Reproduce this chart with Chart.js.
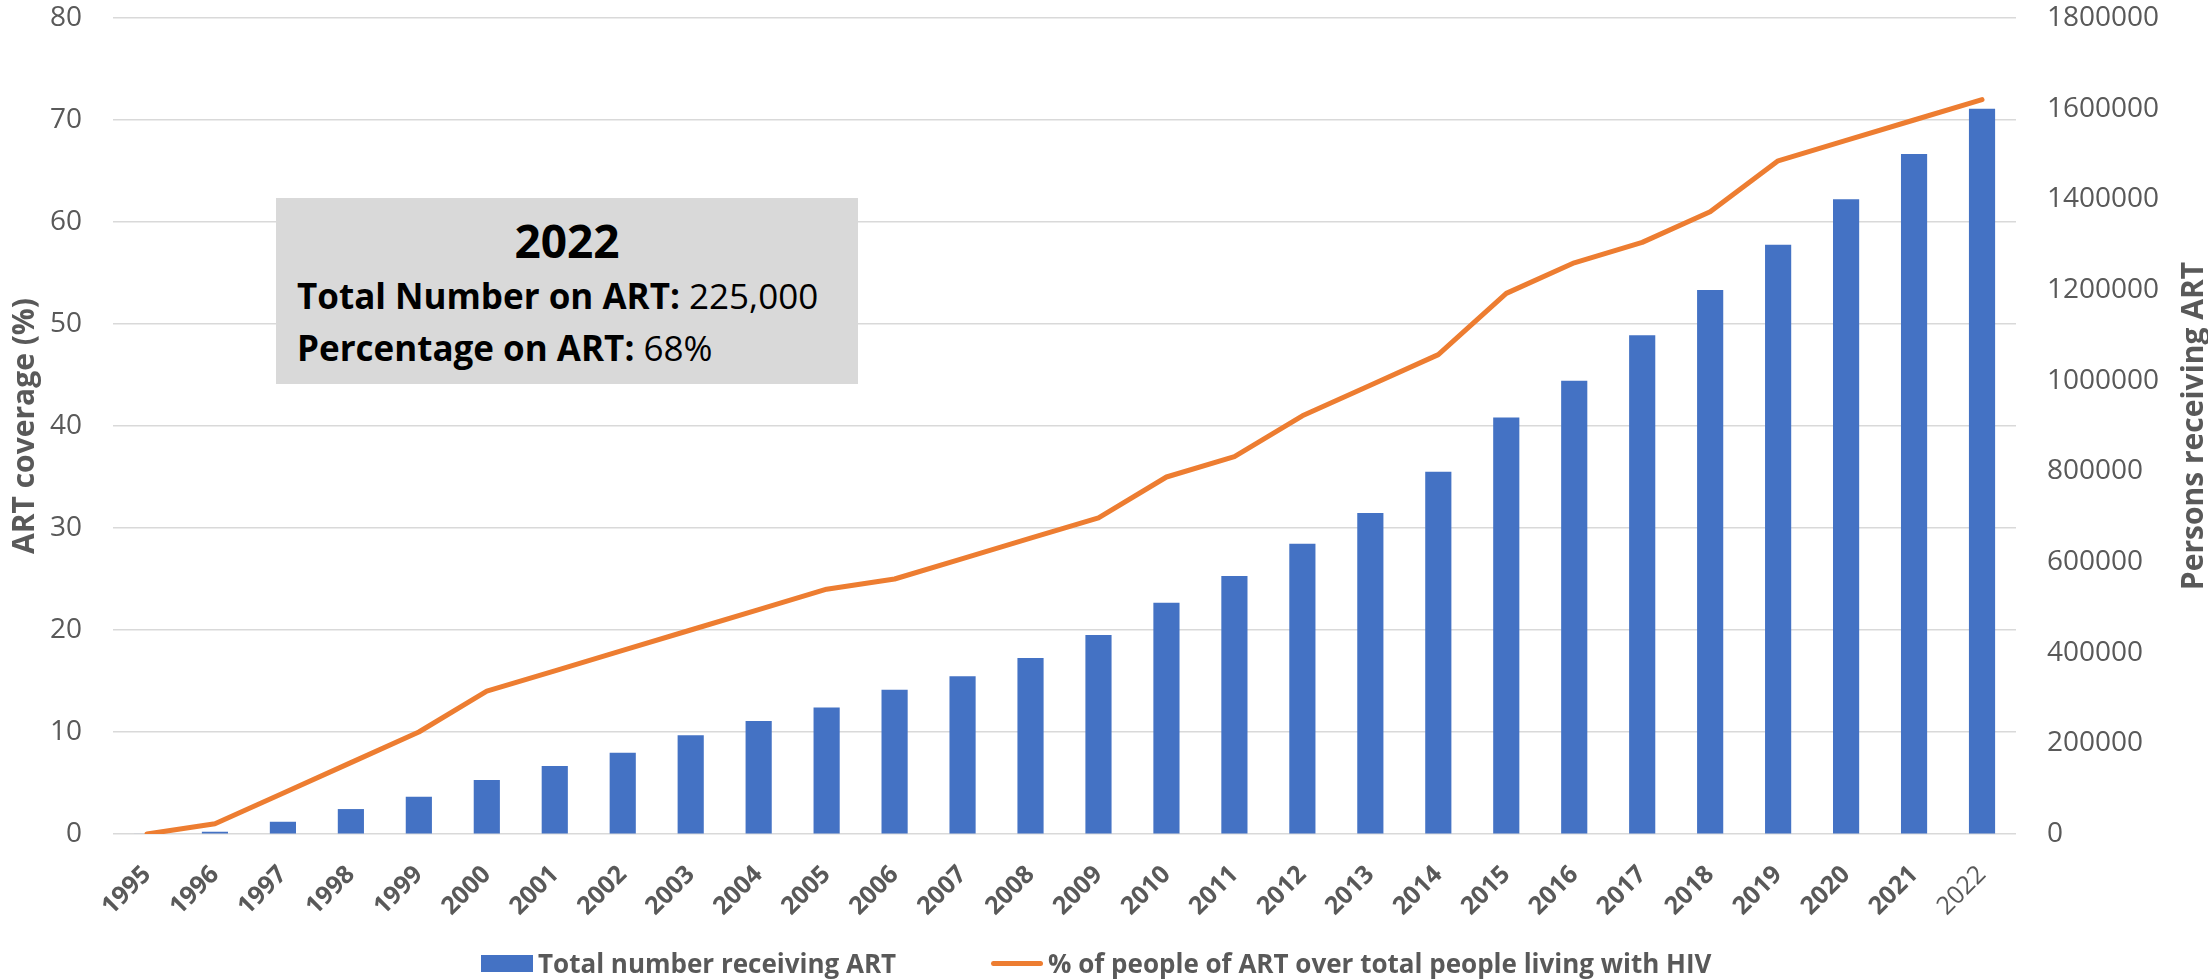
<!DOCTYPE html>
<html>
<head>
<meta charset="utf-8">
<script src="https://cdn.jsdelivr.net/npm/chart.js@4"></script>
<style>
    body { margin: 0; background: #fff; font-family: "Open Sans", sans-serif; }
    #wrap { position: relative; width: 2208px; height: 980px; }
    #note {
        position: absolute; left: 276px; top: 198px; width: 582px; height: 186px;
        background: #d9d9d9; color: #000; box-sizing: border-box; padding: 16px 0 0 21px;
    }
    #note .yr { font-size: 46px; font-weight: bold; line-height: 52px; text-align: center; margin: 0 21px 4px 0; }
    #note .row { font-size: 35px; line-height: 52px; white-space: nowrap; }
    .leg { position: absolute; top: 945px; height: 36px; display: flex; align-items: center;
        font-size: 26px; font-weight: bold; color: #595959; white-space: nowrap; }
    .leg .box { width: 52px; height: 17px; background: #4472c4; margin-right: 5px; }
    .leg .ln { width: 52px; height: 5px; border-radius: 3px; background: #ed7d31; margin-right: 5px; }
</style>
</head>
<body>
<div id="wrap">
    <canvas id="artChart" width="2208" height="980"></canvas>
    <div id="note">
        <div class="yr">2022</div>
        <div class="row"><b>Total Number on ART:</b> 225,000</div>
        <div class="row"><b>Percentage on ART:</b> 68%</div>
    </div>
    <div class="leg" style="left:481px"><span class="box"></span><span id="leg1"></span></div>
    <div class="leg" style="left:991px"><span class="ln"></span><span id="leg2"></span></div>
</div>
<script>
// data
const years = ['1995', '1996', '1997', '1998', '1999', '2000', '2001', '2002', '2003', '2004',
    '2005', '2006', '2007', '2008', '2009', '2010', '2011', '2012', '2013', '2014',
    '2015', '2016', '2017', '2018', '2019', '2020', '2021', '2022'];
const totalOnArt = [1000, 5000, 27000, 55000, 82000, 119000, 150000, 179000, 218000, 249000,
    279000, 318000, 348000, 388000, 439000, 510000, 569000, 640000, 708000, 799000,
    919000, 1000000, 1100000, 1200000, 1300000, 1400000, 1500000, 1600000];
const coveragePct = [0, 1, 4, 7, 10, 14, 16, 18, 20, 22,
    24, 25, 27, 29, 31, 35, 37, 41, 44, 47,
    53, 56, 58, 61, 66, 68, 70, 72];
const barLabel = 'Total number receiving ART';
const lineLabel = '% of people of ART over total people living with HIV';

const grey = '#595959';
Chart.defaults.font.family = '"Open Sans", sans-serif';
Chart.defaults.color = grey;

document.getElementById('leg1').textContent = barLabel;
document.getElementById('leg2').textContent = lineLabel;

// right axis title reads bottom-to-top in the original
const rightTitle = {
    id: 'rightTitle',
    afterDraw(chart) {
        const c = chart.ctx;
        const a = chart.chartArea;
        c.save();
        c.translate(chart.width - 14, (a.top + a.bottom) / 2);
        c.rotate(-Math.PI / 2);
        c.font = 'bold 30px "Open Sans"';
        c.fillStyle = grey;
        c.textAlign = 'center';
        c.textBaseline = 'middle';
        c.fillText('Persons receiving ART', 0, 0);
        c.restore();
    }
};

// fixed axis boxes so the plot area lands where it is in the original
function fixY(width) {
    return s => {
        s.width = width;
        s.paddingTop = 0;
        s.paddingBottom = 0;
    };
}

new Chart(document.getElementById('artChart'), {
    data: {
        labels: years,
        datasets: [{
            type: 'bar',
            label: barLabel,
            data: totalOnArt,
            yAxisID: 'y1',
            backgroundColor: '#4472c4',
            barPercentage: 0.385,
            categoryPercentage: 1,
            order: 1
        }, {
            type: 'line',
            label: lineLabel,
            data: coveragePct,
            yAxisID: 'y',
            borderColor: '#ed7d31',
            borderWidth: 5,
            borderCapStyle: 'round',
            borderJoinStyle: 'round',
            pointRadius: 0,
            tension: 0,
            order: 0
        }]
    },
    options: {
        responsive: false,
        animation: false,
        layout: { padding: { top: 18, left: 0, right: 0, bottom: 0 } },
        plugins: { legend: { display: false }, tooltip: { enabled: false } },
        scales: {
            x: {
                grid: { display: false },
                border: { display: false },
                afterFit: s => { s.height = 146; },
                ticks: {
                    autoSkip: false,
                    minRotation: 45,
                    maxRotation: 45,
                    padding: 18,
                    labelOffset: 0,
                    color: grey,
                    font: ctx => ({ size: 25, weight: ctx.index === years.length - 1 ? 'normal' : 'bold' })
                }
            },
            y: {
                position: 'left',
                min: 0,
                max: 80,
                afterFit: fixY(113),
                grid: { color: '#d9d9d9', lineWidth: 1.5, drawTicks: false },
                border: { display: false },
                ticks: { stepSize: 10, padding: 31, color: grey, font: { size: 28 } },
                title: {
                    display: true,
                    text: 'ART coverage (%)',
                    color: grey,
                    font: { size: 30, weight: 'bold' },
                    padding: { top: 7, bottom: 0 }
                }
            },
            y1: {
                position: 'right',
                min: 0,
                max: 1800000,
                afterFit: fixY(192),
                grid: { drawOnChartArea: false, drawTicks: false },
                border: { display: false },
                ticks: { stepSize: 200000, padding: 31, color: grey, font: { size: 28 },
                    callback: v => String(v) }
            }
        }
    },
    plugins: [rightTitle]
});
</script>
</body>
</html>
